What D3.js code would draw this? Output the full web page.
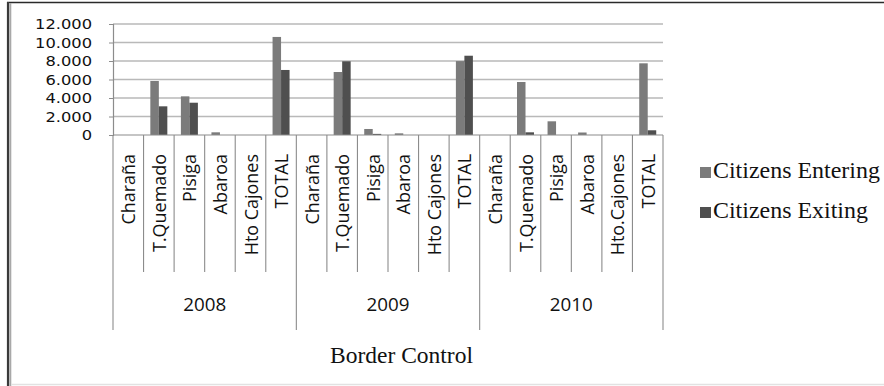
<!DOCTYPE html>
<html>
<head>
<meta charset="utf-8">
<script src="https://cdn.jsdelivr.net/npm/d3@7"></script>
<style>
  html, body { margin: 0; padding: 0; background: #fff; }
  svg { display: block; }
</style>
</head>
<body>
<svg id="chart" width="884" height="386"></svg>
<script>
// Border crossings by control post and year
const years = ["2008", "2009", "2010"];
const posts2008 = ["Charaña", "T.Quemado", "Pisiga", "Abaroa", "Hto Cajones", "TOTAL"];
const posts2009 = ["Charaña", "T.Quemado", "Pisiga", "Abaroa", "Hto Cajones", "TOTAL"];
const posts2010 = ["Charaña", "T.Quemado", "Pisiga", "Abaroa", "Hto.Cajones", "TOTAL"];
const entering2008 = [0, 5840, 4180, 290, 0, 10600];
const exiting2008  = [0, 3100, 3490, 0, 0, 7030];
const entering2009 = [0, 6810, 650, 180, 0, 7990];
const exiting2009  = [0, 7970, 120, 0, 0, 8570];
const entering2010 = [0, 5730, 1480, 270, 0, 7750];
const exiting2010  = [0, 290, 0, 0, 0, 510];
const seriesNames = ["Citizens Entering", "Citizens Exiting"];
const seriesColors = ["#7b7b7b", "#4f4f4f"];
const yTicks = [0, 2000, 4000, 6000, 8000, 10000, 12000];
const xTitle = "Border Control";

const postsByYear = [posts2008, posts2009, posts2010];
const enteringByYear = [entering2008, entering2009, entering2010];
const exitingByYear = [exiting2008, exiting2009, exiting2010];

// flatten into one row per (year, post)
const rows = [];
years.forEach((yr, yi) => {
  postsByYear[yi].forEach((p, pi) => {
    rows.push({ key: yr + "|" + pi, year: yr, post: p,
      values: [enteringByYear[yi][pi], exitingByYear[yi][pi]] });
  });
});

const svg = d3.select("#chart");
const plot = { left: 113, right: 663, top: 24, bottom: 135 };
const SANS = "'Open Sans', sans-serif";
const TICK_SANS = "'DejaVu Sans', sans-serif";
const SERIF = "'Liberation Serif', 'Times New Roman', serif";

// measure a string so a font size can be chosen for a target width
function measure(str, family, size) {
  const t = svg.append("text").attr("font-family", family).attr("font-size", size).text(str);
  const w = t.node().getComputedTextLength();
  t.remove();
  return w;
}
function sizeFor(str, family, width) {
  return 20 * width / measure(str, family, 20);
}

const x = d3.scaleBand().domain(rows.map(r => r.key))
  .range([plot.left, plot.right]).paddingInner(0).paddingOuter(0);
const y = d3.scaleLinear().domain([0, 12000]).range([plot.bottom, plot.top]);
const barW = 8.5;

// outer frame
svg.append("line").attr("x1", 7).attr("x2", 884).attr("y1", 2.5).attr("y2", 2.5)
  .attr("stroke", "#2a2a2a").attr("stroke-width", 1.6);
svg.append("line").attr("x1", 8).attr("x2", 8).attr("y1", 2).attr("y2", 386)
  .attr("stroke", "#3a3a3a").attr("stroke-width", 2.2);
svg.append("line").attr("x1", 10.3).attr("x2", 10.3).attr("y1", 3).attr("y2", 386)
  .attr("stroke", "#a8a8a8").attr("stroke-width", 2);
svg.append("line").attr("x1", 11).attr("x2", 884).attr("y1", 384.5).attr("y2", 384.5)
  .attr("stroke", "#e2e2e2").attr("stroke-width", 1.5);

// gridlines
svg.append("g").selectAll("line").data(yTicks.filter(t => t > 0)).join("line")
  .attr("x1", plot.left).attr("x2", plot.right)
  .attr("y1", d => y(d)).attr("y2", d => y(d))
  .attr("stroke", "#b9b9b9").attr("stroke-width", 1.4);

// y axis: labels are slightly wide, so stretch them horizontally
const yFmt = d => d3.format(",")(d).replace(/,/g, ".");
const yFont = 14.8;
const yStretch = 57 / measure(yFmt(12000), TICK_SANS, yFont);
const yAxis = svg.append("g").attr("transform", `translate(${plot.left},0)`)
  .call(d3.axisLeft(y).tickValues(yTicks).tickSize(4).tickFormat(yFmt));
yAxis.select(".domain").attr("stroke", "#8c8c8c").attr("stroke-width", 1.2);
yAxis.selectAll(".tick line").attr("stroke", "#8c8c8c");
yAxis.selectAll(".tick text")
  .attr("x", null)
  .attr("transform", `translate(-21,0) scale(${yStretch},1)`)
  .attr("font-family", TICK_SANS).attr("font-size", yFont)
  .attr("fill", "#111");

// bars
const groups = svg.append("g").selectAll("g").data(rows).join("g")
  .attr("transform", d => `translate(${x(d.key) + x.bandwidth() / 2},0)`);
groups.selectAll("rect").data(d => d.values.map((v, i) => ({ v, i }))).join("rect")
  .attr("x", d => d.i === 0 ? -barW : 0)
  .attr("width", barW)
  .attr("y", d => y(d.v))
  .attr("height", d => plot.bottom - y(d.v))
  .attr("fill", d => seriesColors[d.i]);

// category axis: baseline, separators and labels
const axisCol = "#8c8c8c";
svg.append("line").attr("x1", plot.left).attr("x2", plot.right)
  .attr("y1", plot.bottom).attr("y2", plot.bottom)
  .attr("stroke", axisCol).attr("stroke-width", 1.2);
const step = x.step();
const bounds = d3.range(rows.length + 1).map(i => plot.left + i * step);
svg.append("g").selectAll("line").data(bounds).join("line")
  .attr("x1", d => d).attr("x2", d => d)
  .attr("y1", plot.bottom)
  .attr("y2", (d, i) => (i % 6 === 0) ? 330 : 272)
  .attr("stroke", axisCol).attr("stroke-width", 1.1);

const catFont = sizeFor("T.Quemado", SANS, 98);
svg.append("g").selectAll("text").data(rows).join("text")
  .attr("transform", d => `translate(${x(d.key) + x.bandwidth() / 2},154) rotate(-90)`)
  .attr("text-anchor", "end")
  .attr("dominant-baseline", "central")
  .attr("font-family", SANS).attr("font-size", catFont)
  .attr("fill", "#111")
  .text(d => d.post);

const yearFont = sizeFor("2010", SANS, 43);
svg.append("g").selectAll("text").data(years).join("text")
  .attr("x", (d, i) => (bounds[i * 6] + bounds[i * 6 + 6]) / 2)
  .attr("y", 311)
  .attr("text-anchor", "middle")
  .attr("font-family", SANS).attr("font-size", yearFont)
  .attr("fill", "#111")
  .text(d => d);

// axis title
svg.append("text").attr("x", 330).attr("y", 363)
  .attr("font-family", SERIF).attr("font-size", sizeFor(xTitle, SERIF, 143))
  .attr("fill", "#111")
  .text(xTitle);

// legend
const legFont = sizeFor(seriesNames[0], SERIF, 167);
const legend = svg.append("g").selectAll("g").data(seriesNames).join("g")
  .attr("transform", (d, i) => `translate(700,${178 + i * 40})`);
legend.append("rect").attr("x", 0).attr("y", -11).attr("width", 11).attr("height", 11)
  .attr("fill", (d, i) => seriesColors[i]);
legend.append("text").attr("x", 13).attr("y", 0)
  .attr("font-family", SERIF).attr("font-size", legFont)
  .attr("fill", "#111")
  .text(d => d);
</script>
</body>
</html>
